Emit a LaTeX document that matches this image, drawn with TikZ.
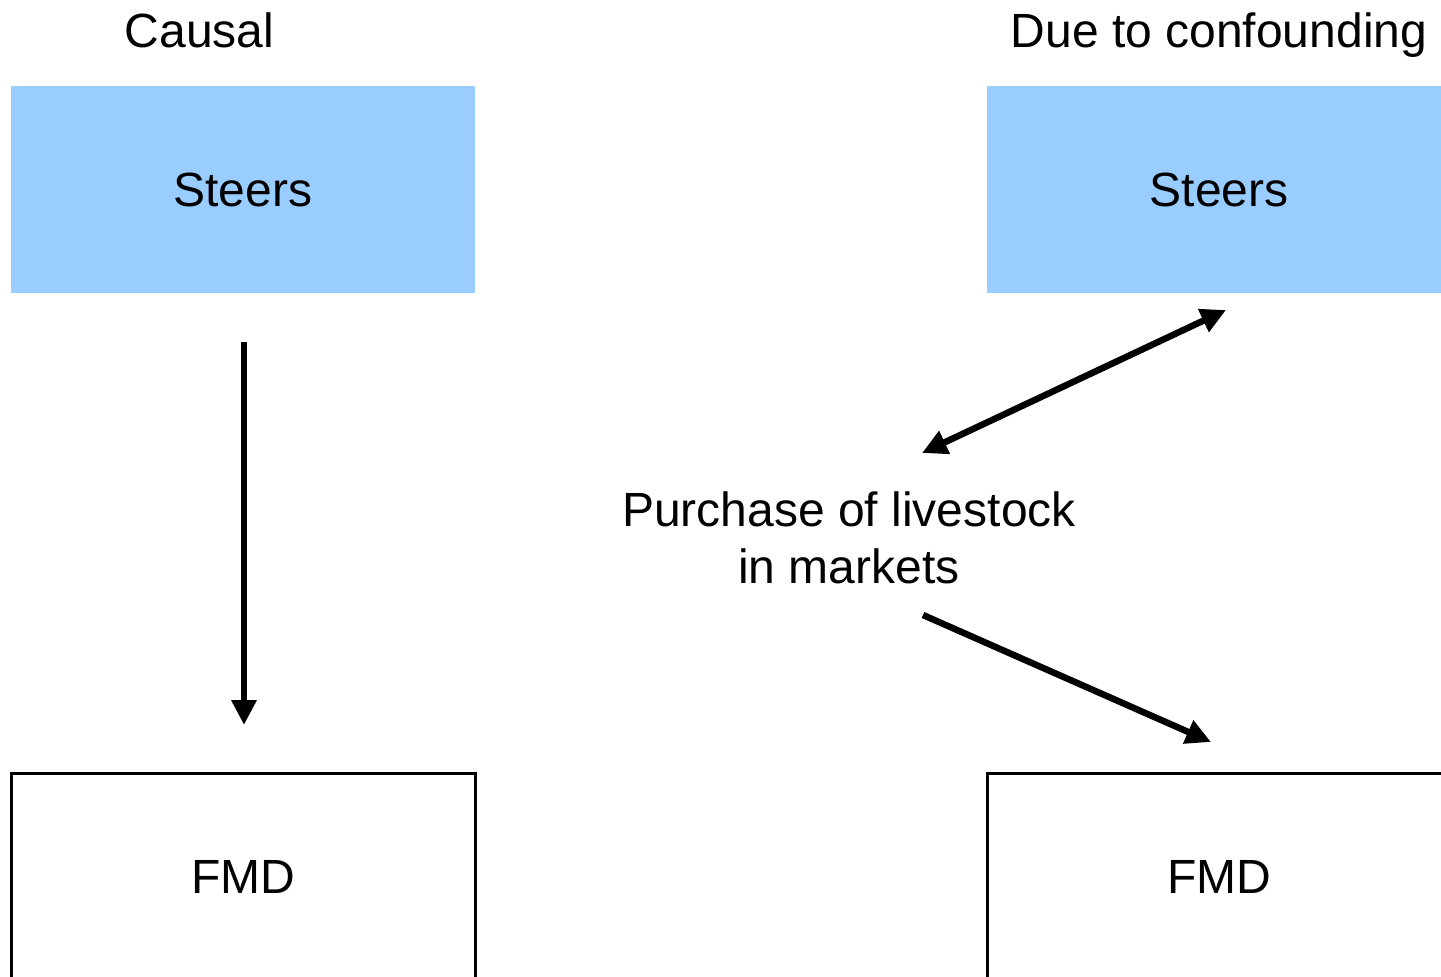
\documentclass[tikz,border=0pt]{standalone}
\usepackage{fontspec}
\setmainfont{Liberation Sans}
\usetikzlibrary{arrows.meta}
\definecolor{boxblue}{HTML}{99CCFF}
\begin{document}
\begin{tikzpicture}[x=1pt,y=-1pt,
  lbl/.style={font=\fontsize{48}{57}\selectfont, inner sep=0pt},
  bluebox/.style={fill=boxblue, draw=none, minimum width=464pt, minimum height=207pt, inner sep=0pt, font=\fontsize{48}{57}\selectfont},
  whitebox/.style={fill=white, draw=black, line width=3pt, minimum width=464pt, minimum height=207pt, inner sep=0pt, font=\fontsize{48}{57}\selectfont},
  conn/.style={line width=6.5pt, -{Triangle[length=25pt,width=24pt]}},
  dconn/.style={line width=6.5pt, {Triangle[length=25pt,width=24pt]}-{Triangle[length=25pt,width=24pt]}}
]
\useasboundingbox (0,0) rectangle (1441,977);
\clip (0,0) rectangle (1441,977);
\fill[white] (0,0) rectangle (1441,977);

% titles
\node[lbl, anchor=base] (t1) at (199.5,47) {Causal};
\node[lbl, anchor=base] (t2) at (1219,47) {Due to confounding};

% boxes
\node[bluebox] (s1) at (243,189.5) {\raisebox{-2pt}{Steers}};
\node[bluebox] (s2) at (1219,189.5) {\raisebox{-2pt}{Steers}};
\node[whitebox] (f1) at (243,876.5) {\raisebox{-2pt}{FMD}};
\node[whitebox] (f2) at (1219,876.5) {\raisebox{-2pt}{FMD}};

% middle label
\node[lbl, align=center] (m) at (849,538) {Purchase of livestock\\in markets};

% connectors
\coordinate (v1) at (244,342);
\coordinate (v2) at (244,725);
\draw[conn] (v1) -- (v2);
\coordinate (d1) at (922,453);
\coordinate (d2) at (1226,310);
\draw[dconn] (d1) -- (d2);
\coordinate (e1) at (923,615);
\coordinate (e2) at (1211,742);
\draw[conn] (e1) -- (e2);
\end{tikzpicture}
\end{document}
